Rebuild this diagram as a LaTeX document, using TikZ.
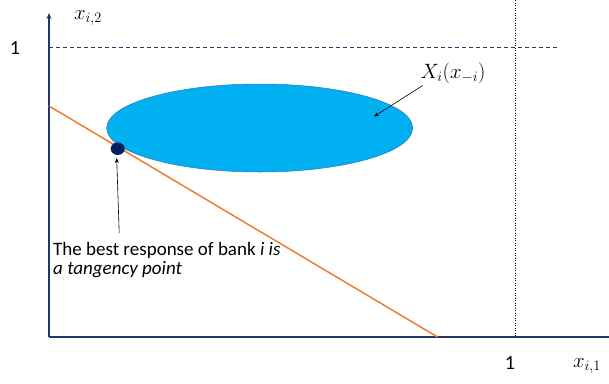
\documentclass[tikz,border=0pt]{standalone}
\usepackage{fontspec}
\setmainfont{Carlito}
\usetikzlibrary{arrows.meta,shapes.geometric}
\definecolor{navy}{HTML}{1F3864}
\definecolor{dotblue}{HTML}{002060}
\definecolor{ellfill}{HTML}{00B0F0}
\definecolor{elledge}{HTML}{2E75B6}
\definecolor{orangeln}{HTML}{ED7D31}
\tikzset{
  axisline/.style={draw=navy, line width=1.6pt},
  textlbl/.style={font=\fontsize{20}{22}\selectfont, inner sep=0pt},
  mathlbl/.style={font=\fontsize{21}{24}\selectfont, inner sep=0pt},
  pointer/.style={draw=black, line width=0.6pt, -{Stealth[length=5pt,width=4pt]}},
}
\begin{document}
\begin{tikzpicture}[x=1pt,y=-1pt]
\useasboundingbox (0,0) rectangle (609,383);
% axes
\coordinate (origin) at (49,337);
\coordinate (ytop) at (49,13);
\coordinate (xend) at (609,337);
\draw[axisline, -{Stealth[length=6pt,width=5pt]}] (origin) -- (ytop);
\draw[axisline] (origin) -- (xend);
% dashed line x_{i,2}=1
\coordinate (dashL) at (49,47.5);
\coordinate (dashR) at (560,47.5);
\draw[navy, line width=0.8pt, dash pattern=on 4pt off 3pt] (dashL) -- (dashR);
% dotted line x_{i,1}=1
\coordinate (dotT) at (515.5,0);
\coordinate (dotB) at (515.5,337);
\draw[black, line width=0.7pt, dash pattern=on 1pt off 1.5pt] (dotT) -- (dotB);
% ellipse
\node[draw=elledge, fill=ellfill, line width=0.5pt, ellipse, minimum width=306pt, minimum height=88pt, inner sep=0pt] (ell) at (259.7,128) {};
% orange budget line
\coordinate (lineL) at (49,106);
\coordinate (lineR) at (437.5,337);
\draw[orangeln, line width=1.5pt] (lineL) -- (lineR);
% tangency point
\node[fill=dotblue, ellipse, minimum width=14pt, minimum height=12.5pt, inner sep=0pt] (dot) at (117.7,148.7) {};
% labels
\node[textlbl] (one2) at (15,48) {1};
\node[textlbl] (one1) at (510,363) {1};
\node[mathlbl] (x2) at (88,18) {$x_{i,2}$};
\node[mathlbl] (x1) at (587,366) {$x_{i,1}$};
\node[mathlbl] (setlbl) at (453,73) {$X_i(x_{-i})$};
\coordinate (setarrowS) at (422.7,85.5);
\coordinate (setarrowE) at (374,116.5);
\draw[pointer] (setarrowS) -- (setarrowE);
\node[font=\fontsize{19}{19.5}\selectfont, inner sep=0pt, anchor=north west, align=left] (caption) at (53,242) {The best response of bank \textit{i is}\\\textit{a tangency point}};
\coordinate (capS) at (119.2,233);
\coordinate (capE) at (116.7,158);
\draw[pointer] (capS) -- (capE);
\end{tikzpicture}
\end{document}
